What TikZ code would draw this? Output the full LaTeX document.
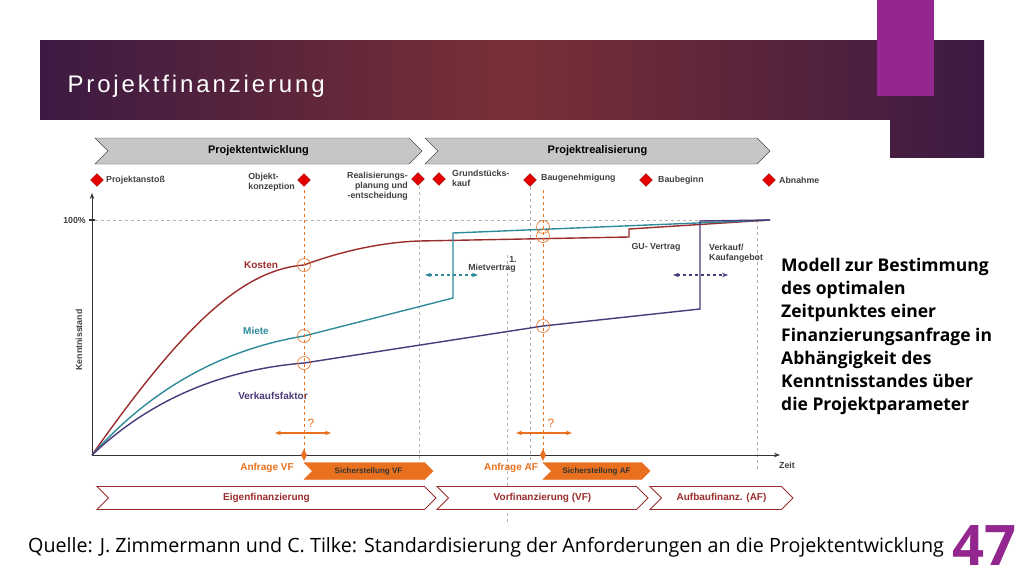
\documentclass[tikz,border=0pt]{standalone}
\usepackage{fontspec}
\setmainfont{Liberation Sans}
\newfontfamily\osans{Open Sans}
\usetikzlibrary{shapes.geometric,shapes.symbols,arrows.meta}
\definecolor{kred}{HTML}{9B2D2D}
\definecolor{mteal}{HTML}{2E8B9A}
\definecolor{vpurp}{HTML}{4B3A7A}
\definecolor{orng}{HTML}{E8701E}
\definecolor{bandL}{HTML}{3C1A42}
\definecolor{bandM}{HTML}{7A3036}
\definecolor{magbar}{HTML}{93278F}
\tikzset{
 x=1pt,y=-1pt,
 sm/.style={font=\fontsize{8.8}{10}\selectfont\bfseries,text=black!75,inner sep=1pt},
 dia/.style={diamond,fill=red!90!black,draw=red!60!black,minimum size=13pt,inner sep=0pt},
 gdash/.style={gray!60,dashed,line width=0.6pt},
 odash/.style={orng,dashed,line width=0.7pt},
 ring/.style={circle,draw=orng,line width=0.6pt,minimum size=13pt,inner sep=0pt},
 curve/.style={line width=1.4pt},
 chevG/.style={signal,signal to=east,signal from=west,fill=gray!45,draw=black!70,minimum height=26pt,inner sep=0pt,font=\fontsize{11}{12}\selectfont\bfseries},
 chevR/.style={signal,signal to=east,signal from=west,fill=white,draw=kred,line width=0.9pt,minimum height=23pt,inner sep=0pt,text=kred,font=\fontsize{10}{11}\selectfont\bfseries},
 chevO/.style={signal,signal to=east,signal from=west,fill=orng,draw=orng,minimum height=17pt,inner sep=0pt,text=black!80,font=\fontsize{8}{9}\selectfont\bfseries},
 odbl/.style={orng,line width=1.4pt,{Stealth[length=6pt]}-{Stealth[length=6pt]}},
 lab/.style={font=\fontsize{10}{11}\selectfont\bfseries},
}
\begin{document}
\begin{tikzpicture}
\useasboundingbox (0,0) rectangle (1024,576);
\fill[white] (0,0) rectangle (1024,576);
% banner
\shade[left color=bandL,right color=bandL,middle color=bandM] (40,40) rectangle (984,158);
\fill[magbar] (877,0) rectangle (934,96);
\fill[white] (40,120) rectangle (890,160);
\fill[white] (0,158) rectangle (1024,576);
\node[anchor=west,text=white,font=\fontsize{24}{27}\selectfont\addfontfeature{LetterSpace=12}] (title) at (64,86) {Projektfinanzierung};
% top chevrons
\node[chevG,minimum width=327pt] (pe) at (258.5,151) {Projektentwicklung};
\node[chevG,minimum width=345pt] (pr) at (597.5,151) {Projektrealisierung};
% milestones
\node[dia] (m1) at (97,180) {};
\node[sm,anchor=west] (t1) at (105,180) {Projektansto\ss};
\node[dia] (m2) at (304,180) {};
\node[sm,anchor=east,align=left] (t2) at (296,182) {Objekt-\\konzeption};
\node[dia] (m3) at (418,179) {};
\node[sm,anchor=north east,align=right] (t3) at (409,171) {Realisierungs-\\planung und\\-entscheidung};
\node[dia] (m4) at (439,179) {};
\node[sm,anchor=north west,align=left] (t4) at (451,169) {Grundst\"ucks-\\kauf};
\node[dia] (m5) at (530,180) {};
\node[sm,anchor=west] (t5) at (540,178) {Baugenehmigung};
\node[dia] (m6) at (646,180) {};
\node[sm,anchor=west] (t6) at (657,180) {Baubeginn};
\node[dia] (m7) at (769,180) {};
\node[sm,anchor=west] (t7) at (778,180) {Abnahme};
% verticals
\draw[gdash] (419,186) -- (419,470);
\draw[gdash] (507,255) -- (507,522);
\draw[gdash] (530,187) -- (530,470);
\draw[gdash] (757,220) -- (757,470);
\draw[gdash] (95,220) -- (770,220);
% axes
\coordinate (o) at (92,455);
\coordinate (ytop) at (92,193);
\coordinate (xend) at (780,455);
\draw[black!80,line width=1pt,-{Stealth[length=6pt]}] (o) -- (ytop);
\draw[black!80,line width=1pt,-{Stealth[length=6pt]}] (o) -- (xend);
\draw[black!80,line width=2pt] (89,220) -- (95,220);
\node[sm,anchor=east] (p100) at (87,220) {100\%};
\node[sm,anchor=west] (zeit) at (778,465) {Zeit};
\node[sm,rotate=90] (kn) at (79,340) {Kenntnisstand};
% curves
\draw[curve,kred] (o) .. controls (180,330) and (240,270) .. (304,265) .. controls (350,248) and (390,242) .. (419,241) -- (629,237) -- (629,229) -- (770,220);
\draw[curve,mteal] (o) .. controls (150,390) and (220,350) .. (304,336) -- (453,298) -- (453,233) -- (770,220);
\draw[curve,vpurp] (o) .. controls (150,400) and (220,370) .. (304,363) -- (543,326) -- (700,309) -- (700,221) -- (770,220);
\node[lab,text=kred] (lk) at (261,265) {Kosten};
\node[lab,text=mteal] (lm) at (256,331) {Miete};
\node[lab,text=vpurp] (lv) at (273,396) {Verkaufsfaktor};
% orange verticals
\draw[odash] (304,190) -- (304,455);
\draw[odash] (543,190) -- (543,455);
\node[ring] (r1) at (304,265) {};
\node[ring] (r2) at (304,336) {};
\node[ring] (r3) at (304,363) {};
\node[ring] (r4) at (543,227) {};
\node[ring] (r5) at (543,236) {};
\node[ring] (r6) at (543,326) {};
% dashed arrows
\coordinate (ta) at (425,275); \coordinate (tb) at (478,275);
\draw[mteal,line width=1.3pt,dashed,{Stealth[length=6pt]}-{Stealth[length=6pt]}] (ta) -- (tb);
\node[sm] (one) at (513,259) {1.};
\node[sm] (mv) at (492,268) {Mietvertrag};
\node[sm] (gu) at (656,247) {GU- Vertrag};
\node[sm,align=left,anchor=west] (vk) at (708,253) {Verkauf/\\Kaufangebot};
\coordinate (pa) at (673,275); \coordinate (pb) at (728,275);
\draw[vpurp,line width=1.3pt,dashed,{Stealth[length=6pt]}-{Stealth[length=6pt]}] (pa) -- (pb);
% question arrows
\coordinate (q1a) at (275,433); \coordinate (q1b) at (331,433);
\coordinate (q2a) at (516,433); \coordinate (q2b) at (572,433);
\draw[odbl] (q1a) -- (q1b);
\draw[odbl] (q2a) -- (q2b);
\node[text=orng,font=\fontsize{12}{13}\selectfont] (qm1) at (311,423) {?};
\node[text=orng,font=\fontsize{12}{13}\selectfont] (qm2) at (551,423) {?};
\node[diamond,fill=orng,minimum width=6pt,minimum height=12pt,inner sep=0pt] (d1) at (304,455) {};
\node[diamond,fill=orng,minimum width=6pt,minimum height=12pt,inner sep=0pt] (d2) at (543,455) {};
% financing requests
\node[text=orng,lab] (av) at (267,468) {Anfrage VF};
\node[chevO,minimum width=129pt] (sv) at (368.5,471) {Sicherstellung VF};
\node[text=orng,lab] (aa) at (511,468) {Anfrage AF};
\node[chevO,minimum width=107pt] (sa) at (596.5,471) {Sicherstellung AF};
% bottom chevrons
\node[chevR,minimum width=339pt] (ef) at (266.5,498) {Eigenfinanzierung};
\node[chevR,minimum width=211pt] (vf) at (542.5,498) {Vorfinanzierung (VF)};
\node[chevR,minimum width=143pt] (af) at (721.5,498) {Aufbaufinanz. (AF)};
% right text
\node[anchor=north west,align=left,inner sep=0pt,font=\osans\fontsize{17.5}{23.2}\selectfont\bfseries] (mod) at (781,258) {Modell zur Bestimmung\\des optimalen\\Zeitpunktes einer\\Finanzierungsanfrage in\\Abh\"angigkeit des\\Kenntnisstandes \"uber\\die Projektparameter};
% source
\node[anchor=west,inner sep=0pt,font=\osans\fontsize{19.7}{21}\selectfont] (src) at (28,547) {Quelle: J. Zimmermann und C. Tilke: Standardisierung der Anforderungen an die Projektentwicklung};
\node[text=magbar,inner sep=0pt,font=\osans\fontsize{56}{58}\selectfont\bfseries] (num) at (984,545) {47};
\end{tikzpicture}
\end{document}
